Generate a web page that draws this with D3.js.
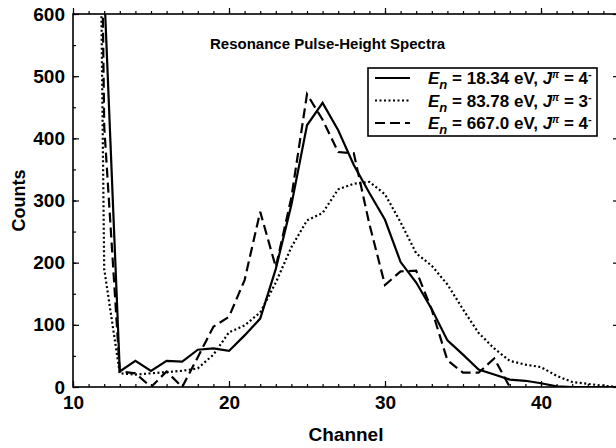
<!DOCTYPE html>
<html>
<head>
<meta charset="utf-8">
<script src="https://cdn.jsdelivr.net/npm/d3@7"></script>
<style>
  body { margin: 0; background: #fff; }
  svg { display: block; }
  text { font-family: "Liberation Sans", Arial, sans-serif; font-weight: bold; fill: #000; }
</style>
</head>
<body>
<div class="chart"></div>
<script>
// chart data (channel -> counts)
var channels = [11, 12, 13, 14, 15, 16, 17, 18, 19, 20, 21, 22, 23, 24, 25, 26, 27, 28,
  29, 30, 31, 32, 33, 34, 35, 36, 37, 38, 39, 40, 41, 42, 43, 44, 45];

// E_n = 18.34 eV (solid)
var counts1834 = [2500, 640, 25, 42, 26, 42, 41, 60, 62, 58, 83, 110, 190, 293, 421, 457, 413, 357,
  312, 269, 201, 168, 125, 75, 52, 28, 20, 12, 10, 6, 1, 0, 0, 0, 0];

// E_n = 83.78 eV (dotted)
var counts8378 = [2500, 190, 22, 20, 22, 24, 26, 30, 52, 88, 99, 120, 168, 225, 268, 280, 318, 327,
  330, 310, 265, 215, 195, 165, 125, 87, 62, 42, 36, 32, 18, 8, 5, 2, 0];

// E_n = 667.0 eV (dashed), nothing drawn past channel 38
var counts6670 = [2500, 420, 25, 22, 0, 25, 0, 48, 97, 113, 172, 282, 193, 305, 471, 430, 378, 376,
  262, 164, 186, 187, 124, 43, 23, 23, 46, 0, null, null, null, null, null, null, null];

var xTickLabels = [10, 20, 30, 40];
var yTickLabels = [0, 100, 200, 300, 400, 500, 600];

var legendRows = [
  { en: "18.34", j: "4", values: counts1834, dash: null },
  { en: "83.78", j: "3", values: counts8378, dash: "2,2.5" },
  { en: "667.0", j: "4", values: counts6670, dash: "10,5" }
];

// setup chart dimensions
var svgWidth = 616;
var svgHeight = 448;

var margin = { top: 14, left: 73 };
var chartWidth = 546;   // right frame sits just past the window edge
var chartHeight = 373;

var svg = d3.select(".chart")
  .append("svg")
  .attr("width", svgWidth)
  .attr("height", svgHeight);

var chartGroup = svg.append("g")
  .attr("transform", `translate(${margin.left}, ${margin.top})`);

// scales
var xScale = d3.scaleLinear().domain([10, 45]).range([0, chartWidth]);
var yScale = d3.scaleLinear().domain([0, 600]).range([chartHeight, 0]);

// clip the lines to the plot box
chartGroup.append("clipPath")
  .attr("id", "plot-clip")
  .append("rect")
  .attr("width", chartWidth)
  .attr("height", chartHeight);

// minor ticks (every channel, every 50 counts) on all four sides
var minorX = d3.range(10, 46);
var minorY = d3.range(0, 601, 50);

function tickAxis(axisFn, scale, values, size) {
  return axisFn(scale).tickValues(values).tickSizeInner(-size).tickSizeOuter(0).tickFormat("");
}

chartGroup.append("g")
  .attr("transform", `translate(0, ${chartHeight})`)
  .call(tickAxis(d3.axisBottom, xScale, minorX, 3));
chartGroup.append("g")
  .call(tickAxis(d3.axisTop, xScale, minorX, -3).tickSizeInner(3));
chartGroup.append("g")
  .call(tickAxis(d3.axisLeft, yScale, minorY, 3));
chartGroup.append("g")
  .attr("transform", `translate(${chartWidth}, 0)`)
  .call(tickAxis(d3.axisRight, yScale, minorY, 3));

// major ticks
chartGroup.append("g")
  .attr("transform", `translate(0, ${chartHeight})`)
  .call(tickAxis(d3.axisBottom, xScale, xTickLabels, 6));
chartGroup.append("g")
  .call(tickAxis(d3.axisTop, xScale, xTickLabels, 6).tickSizeInner(6));
chartGroup.append("g")
  .call(tickAxis(d3.axisLeft, yScale, yTickLabels, 6));
chartGroup.append("g")
  .attr("transform", `translate(${chartWidth}, 0)`)
  .call(tickAxis(d3.axisRight, yScale, yTickLabels, 6));

// labelled axes
var bottomAxis = d3.axisBottom(xScale).tickValues(xTickLabels).tickSize(0).tickPadding(9);
var leftAxis = d3.axisLeft(yScale).tickValues(yTickLabels).tickSize(0).tickPadding(8);

chartGroup.append("g")
  .attr("transform", `translate(0, ${chartHeight})`)
  .call(bottomAxis)
  .call(g => g.select(".domain").remove())
  .selectAll("text").attr("font-size", 19);

chartGroup.append("g")
  .call(leftAxis)
  .call(g => g.select(".domain").remove())
  .selectAll("text").attr("font-size", 19);

chartGroup.selectAll(".tick line").attr("stroke", "#000").attr("stroke-width", 1.2);
chartGroup.selectAll(".domain").remove();

// frame
chartGroup.append("rect")
  .attr("width", chartWidth)
  .attr("height", chartHeight)
  .attr("fill", "none")
  .attr("stroke", "#000")
  .attr("stroke-width", 1.6);

// spectra
var line = d3.line()
  .defined(d => d[1] !== null)
  .x(d => xScale(d[0]))
  .y(d => yScale(d[1]));

chartGroup.append("g")
  .attr("clip-path", "url(#plot-clip)")
  .selectAll("path")
  .data(legendRows)
  .enter()
  .append("path")
  .attr("d", d => line(channels.map((c, i) => [c, d.values[i]])))
  .attr("fill", "none")
  .attr("stroke", "#000")
  .attr("stroke-width", 2.2)
  .attr("stroke-dasharray", d => d.dash);

// title
chartGroup.append("text")
  .attr("x", 137)
  .attr("y", 35)
  .attr("font-size", 15)
  .text("Resonance Pulse-Height Spectra");

// axis titles
chartGroup.append("text")
  .attr("x", xScale(27.5))
  .attr("y", chartHeight + 54)
  .attr("text-anchor", "middle")
  .attr("font-size", 19)
  .text("Channel");

chartGroup.append("text")
  .attr("transform", "rotate(-90)")
  .attr("x", -chartHeight / 2)
  .attr("y", -48)
  .attr("text-anchor", "middle")
  .attr("font-size", 18)
  .text("Counts");

// legend
var legend = svg.append("g").attr("transform", "translate(368, 68)");

legend.append("rect")
  .attr("width", 229)
  .attr("height", 68)
  .attr("fill", "#fff")
  .attr("stroke", "#000")
  .attr("stroke-width", 1.6);

var rows = legend.selectAll(".row")
  .data(legendRows)
  .enter()
  .append("g")
  .attr("class", "row")
  .attr("transform", (d, i) => `translate(0, ${10 + i * 22.5})`);

rows.append("line")
  .attr("x1", 7)
  .attr("x2", 42)
  .attr("stroke", "#000")
  .attr("stroke-width", 2.2)
  .attr("stroke-dasharray", d => d.dash);

var label = rows.append("text")
  .attr("x", 60)
  .attr("y", 6)
  .attr("font-size", 17);

label.append("tspan").attr("font-style", "italic").text("E");
label.append("tspan").attr("font-style", "italic").attr("font-size", 13).attr("dy", 5).text("n");
label.append("tspan").attr("dy", -5).text(d => ` = ${d.en} eV, `);
label.append("tspan").attr("font-style", "italic").text("J");
label.append("tspan").attr("font-style", "italic").attr("font-size", 10).attr("dy", -6).text("π");
label.append("tspan").attr("dy", 6).text(d => ` = ${d.j}`);
label.append("tspan").attr("font-size", 11).attr("dy", -6).text("-");
</script>
</body>
</html>
